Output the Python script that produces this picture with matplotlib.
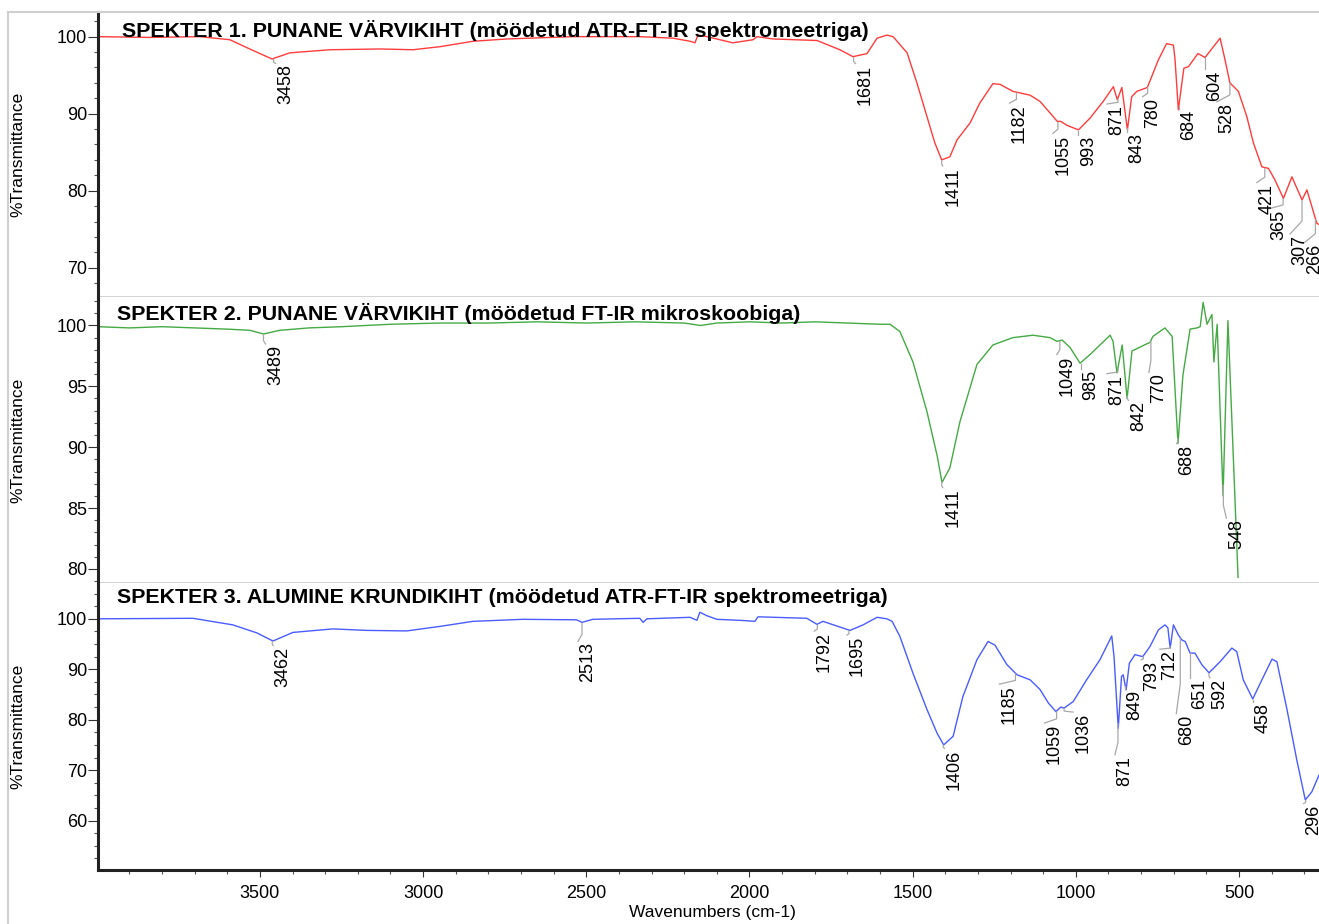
import numpy as np
import matplotlib
matplotlib.use('Agg')
import matplotlib.pyplot as plt
from matplotlib.lines import Line2D
from matplotlib.ticker import MultipleLocator

plt.rcParams['font.family'] = ['Liberation Sans', 'DejaVu Sans']

# spectrum 1 - red paint layer, ATR-FT-IR
wn1 = [3996, 3837, 3684, 3592, 3531, 3463, 3408, 3285, 3132, 3031, 2948, 2847, 2743, 2541,
       2336, 2234, 2182, 2167, 2158, 2130, 2051, 1989, 1977, 1928, 1793, 1723, 1683, 1640,
       1609, 1579, 1560, 1517, 1487, 1456, 1432, 1411, 1386, 1364, 1324, 1294, 1254, 1232,
       1193, 1140, 1110, 1079, 1057, 1046, 1028, 992, 957, 916, 885, 873, 859, 842, 829,
       813, 781, 763, 747, 722, 701, 696, 686, 669, 655, 626, 604, 558, 543, 528, 502, 476,
       456, 430, 410, 390, 364, 338, 307, 292, 262, 255]
t1 = [100.0, 99.9, 100.0, 99.6, 98.4, 97.1, 97.9, 98.3, 98.4, 98.3, 98.7, 99.4, 99.7, 100.0,
      100.0, 99.8, 99.4, 99.2, 100.2, 100.0, 99.2, 99.6, 100.0, 99.7, 99.5, 98.3, 97.4, 97.8,
      99.8, 100.2, 100.0, 97.9, 94.0, 89.6, 86.2, 84.0, 84.4, 86.6, 88.8, 91.4, 93.9, 93.8,
      92.9, 92.4, 91.6, 90.1, 89.0, 89.0, 88.5, 87.9, 89.4, 91.6, 93.5, 91.8, 93.4, 87.9, 92.2,
      92.9, 93.4, 95.3, 97.0, 99.1, 98.9, 97.0, 90.5, 95.9, 96.1, 97.8, 97.3, 99.8, 97.0, 94.0,
      92.9, 89.6, 86.2, 83.1, 82.9, 81.4, 79.0, 81.8, 78.8, 80.1, 75.8, 75.6]
peaks1 = [3458, 1681, 1411, 1182, 1055, 993, 871, 843, 780, 684, 604, 528, 421, 365, 307, 266]

# spectrum 2 - red paint layer, FT-IR microscope
wn2 = [3996, 3900, 3800, 3700, 3600, 3530, 3489, 3440, 3350, 3250, 3100, 2950, 2800, 2650,
       2500, 2350, 2200, 2150, 2100, 2000, 1900, 1800, 1700, 1600, 1569, 1539, 1499, 1456,
       1425, 1410, 1386, 1355, 1303, 1254, 1193, 1131, 1079, 1058, 1042, 1018, 987, 957, 895,
       886, 874, 858, 843, 828, 782, 773, 764, 727, 705, 687, 672, 650, 629, 619, 610, 598,
       583, 577, 567, 549, 534, 503]
t2 = [99.9, 99.8, 99.9, 99.8, 99.7, 99.6, 99.3, 99.6, 99.8, 99.9, 100.1, 100.2, 100.2, 100.3,
      100.2, 100.3, 100.2, 100.0, 100.2, 100.3, 100.2, 100.3, 100.2, 100.1, 100.1, 99.5, 97.0,
      92.9, 89.3, 87.1, 88.3, 92.1, 96.8, 98.4, 99.0, 99.2, 99.0, 98.7, 98.8, 98.2, 96.9, 97.6,
      99.2, 98.7, 96.1, 98.4, 94.0, 97.9, 98.5, 98.6, 99.1, 99.8, 99.1, 90.3, 95.9, 99.7, 99.8,
      99.9, 101.9, 100.1, 100.9, 97.0, 100.1, 86.0, 100.4, 79.3]
peaks2 = [3489, 1411, 1049, 985, 871, 842, 770, 688, 548]

# spectrum 3 - ground layer, ATR-FT-IR
wn3 = [3996, 3705, 3583, 3509, 3460, 3399, 3276, 3172, 3050, 2948, 2847, 2694, 2530, 2513,
       2480, 2336, 2326, 2314, 2182, 2161, 2152, 2130, 2100, 2029, 1983, 1974, 1824, 1793,
       1775, 1692, 1652, 1609, 1579, 1563, 1539, 1499, 1456, 1425, 1405, 1376, 1346, 1303,
       1269, 1248, 1211, 1180, 1140, 1110, 1084, 1061, 1046, 1036, 1008, 967, 926, 890, 883,
       870, 860, 855, 846, 836, 819, 795, 773, 747, 727, 718, 711, 701, 686, 675, 665, 650,
       635, 614, 592, 558, 522, 507, 487, 458, 430, 399, 384, 353, 323, 297, 277, 255]
t3 = [100.0, 100.1, 98.8, 97.2, 95.6, 97.3, 98.0, 97.7, 97.6, 98.5, 99.5, 99.9, 99.8, 99.3,
      99.9, 100.1, 99.3, 100.0, 100.3, 99.7, 101.3, 100.6, 99.9, 99.7, 99.5, 100.4, 100.1, 98.9,
      99.5, 97.7, 98.8, 100.3, 100.0, 99.5, 96.5, 89.2, 82.0, 77.3, 75.0, 76.7, 84.6, 91.9,
      95.5, 94.8, 90.9, 88.9, 87.9, 86.0, 83.3, 81.6, 82.5, 82.3, 83.6, 87.9, 91.9, 96.6, 92.5,
      78.3, 88.6, 88.9, 85.9, 91.2, 92.9, 92.5, 94.5, 97.8, 98.8, 98.2, 94.2, 98.8, 96.8, 95.8,
      95.5, 93.2, 93.2, 90.9, 89.3, 91.5, 94.2, 93.5, 87.9, 84.1, 87.9, 92.0, 91.5, 82.0, 72.0,
      64.1, 65.7, 69.0]
peaks3 = [3462, 2513, 1792, 1695, 1406, 1185, 1059, 1036, 871, 849, 793, 712, 680, 651, 592,
          458, 296]

titles = ['SPEKTER 1. PUNANE VÄRVIKIHT (möödetud ATR-FT-IR spektromeetriga)',
          'SPEKTER 2. PUNANE VÄRVIKIHT (möödetud FT-IR mikroskoobiga)',
          'SPEKTER 3. ALUMINE KRUNDIKIHT (möödetud ATR-FT-IR spektromeetriga)']

# label placement: (text centre offset right, text top below the curve) in pixels
shift1 = {3458: (12, 6), 1681: (12, 8), 1411: (11, 7), 1182: (3, 12), 1055: (5, 13),
          993: (10, 6), 871: (-1, 7), 843: (10, 6), 780: (5, 11), 684: (10, 5),
          604: (10, 13), 528: (-3, 20), 421: (2, 16), 365: (-4, 12), 307: (-2, 35),
          266: (-1, 25)}
shift2 = {3489: (12, 11), 1411: (11, 8), 1049: (7, 15), 985: (10, 7), 871: (-1, 7),
          842: (11, 6), 770: (8, 33), 688: (9, 7), 548: (13, 35)}
shift3 = {3462: (11, 6), 2513: (6, 20), 1792: (7, 8), 1695: (8, 6), 1406: (11, 5),
          1185: (-6, 12), 1059: (-2, 13), 1036: (19, 5), 871: (7, 33), 849: (10, 5),
          793: (8, 5), 712: (0, 5), 680: (6, 77), 651: (10, 27), 592: (11, 6), 458: (10, 4),
          296: (8, 5)}

W, H = 1319, 924
fig = plt.figure(figsize=(W / 100, H / 100), dpi=100)

panels = [
    (wn1, t1, peaks1, shift1, '#ff3c3c', (66.2, 103.2), 10, 2, 12, 297, 122, 24.7),
    (wn2, t2, peaks2, shift2, '#44aa44', (78.84, 102.34), 5, 1, 297, 583, 117, 23),
    (wn3, t3, peaks3, shift3, '#4a5cff', (50.2, 107.1), 10, 2.5, 583, 870, 117, 19.7),
]

left = 98
fs = 13
axes = []
for i, (wn, tr, peaks, shift, col, ylim, major, minor, top, bot, tx, tb) in enumerate(panels):
    ax = fig.add_axes([left / W, 1 - bot / H, (W - left) / W, (bot - top) / H])
    axes.append(ax)
    ax.plot(wn, tr, color=col, lw=1.0)
    ax.set_xlim(3996, 255)
    ax.set_ylim(*ylim)
    ax.yaxis.set_major_locator(MultipleLocator(major))
    ax.yaxis.set_minor_locator(MultipleLocator(minor))
    ax.xaxis.set_major_locator(MultipleLocator(500))
    ax.xaxis.set_minor_locator(MultipleLocator(100))
    ax.tick_params(axis='y', which='major', length=7, width=0.8, pad=1, labelsize=fs,
                   color='#333333')
    ax.tick_params(axis='y', which='minor', length=3, width=0.8, color='#555555')
    ax.spines['right'].set_visible(False)
    ax.spines['left'].set_linewidth(2.2)
    ax.spines['left'].set_color('#222222')
    if i == 0:
        ax.spines['top'].set_color('#cfcfcf')
        ax.spines['top'].set_linewidth(1.5)
    else:
        ax.spines['top'].set_visible(False)
    if i < 2:
        ax.spines['bottom'].set_color('#cfcfcf')
        ax.spines['bottom'].set_linewidth(2)
        ax.tick_params(axis='x', which='both', bottom=False, labelbottom=False)
    else:
        ax.spines['bottom'].set_linewidth(2.2)
        ax.spines['bottom'].set_color('#222222')
        ax.tick_params(axis='x', which='major', length=5, width=0.8, labelsize=fs, pad=6,
                       color='#333333')
        ax.tick_params(axis='x', which='minor', length=3, width=0.8, color='#555555')

    ax.text((tx - left) / (W - left), 1 - tb / (bot - top), titles[i], transform=ax.transAxes,
            fontsize=15.4, fontweight='bold', ha='left', va='baseline')
    fig.text(18 / W, 1 - (top + bot) / 2 / H, '%Transmittance', rotation=90,
             ha='center', va='center', fontsize=12.5)

    # peak labels with grey leader lines
    xs = np.array(wn[::-1], dtype=float)
    ys = np.array(tr[::-1], dtype=float)
    inv = ax.transData.inverted()
    for p in peaks:
        dx, dy = shift[p]
        yv = np.interp(p, xs, ys)
        x0, y0 = ax.transData.transform((p, yv))
        v = max(2, dy * 0.6)
        pts = inv.transform([(x0, y0 - 1), (x0, y0 - v), (x0 + dx - 10, y0 - dy + 1)])
        ax.plot(pts[:, 0], pts[:, 1], color='#a8a8a8', lw=0.9, clip_on=False)
        ax.annotate(str(p), xy=(p, yv), xytext=(dx, -dy), textcoords='offset pixels',
                    rotation=90, ha='center', va='top', fontsize=fs,
                    annotation_clip=False)

fig.text(712 / W, 1 - 913 / H, 'Wavenumbers (cm-1)', ha='center', va='center', fontsize=12.5)

# light grey outer frame
fig.add_artist(Line2D([8 / W, 8 / W], [0, 1 - 12 / H], transform=fig.transFigure,
                      color='#cfcfcf', lw=1.5))
fig.add_artist(Line2D([8 / W, left / W], [1 - 12 / H, 1 - 12 / H], transform=fig.transFigure,
                      color='#cfcfcf', lw=1.5))

fig.savefig('out.png', dpi=100)
